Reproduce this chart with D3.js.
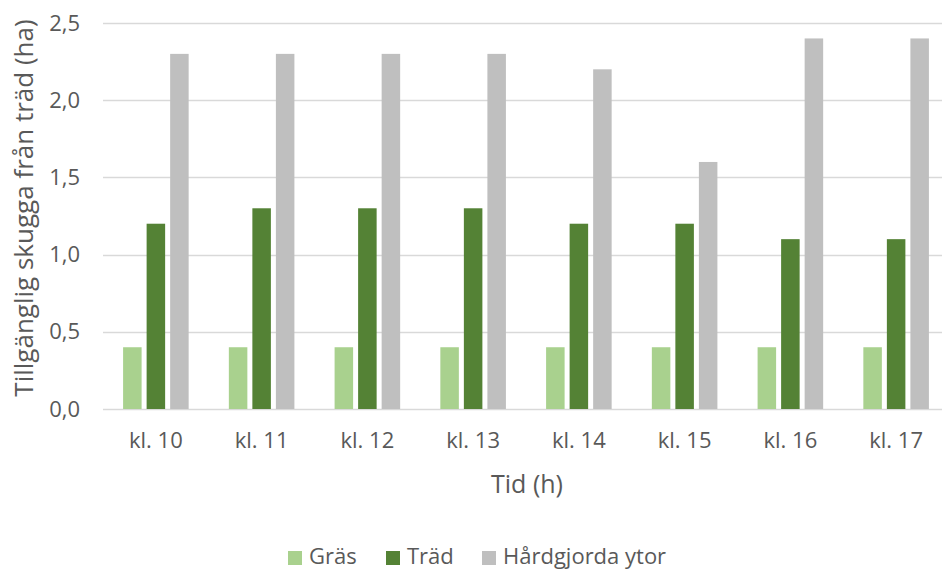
<!DOCTYPE html>
<html>
<head>
<meta charset="utf-8">
<script src="https://cdn.jsdelivr.net/npm/d3@7"></script>
<style>
  body { margin: 0; background: #fff; }
  svg text { font-family: "Open Sans", sans-serif; fill: #595959; }
</style>
</head>
<body>
<div id="chart"></div>
<script>
const categories = ["kl. 10", "kl. 11", "kl. 12", "kl. 13", "kl. 14", "kl. 15", "kl. 16", "kl. 17"];
const seriesNames = ["Gräs", "Träd", "Hårdgjorda ytor"];
const gras = [0.4, 0.4, 0.4, 0.4, 0.4, 0.4, 0.4, 0.4];
const trad = [1.2, 1.3, 1.3, 1.3, 1.2, 1.2, 1.1, 1.1];
const hardgjorda = [2.3, 2.3, 2.3, 2.3, 2.2, 1.6, 2.4, 2.4];
const yTicks = [0, 0.5, 1.0, 1.5, 2.0, 2.5];
const colors = ["#A9D18E", "#548235", "#BFBFBF"];

const w = 942;
const h = 569;
const values = [gras, trad, hardgjorda];

const svg = d3.select("#chart").append("svg").attr("width", w).attr("height", h);

const x0 = d3.scaleBand()
  .domain(categories)
  .range([103, 949])
  .paddingInner(0.38)
  .paddingOuter(0.19);

const x1 = d3.scaleBand()
  .domain(seriesNames)
  .range([0, x0.bandwidth()])
  .paddingInner(0.213)
  .paddingOuter(0);

const y = d3.scaleLinear().domain([0, 2.5]).range([409, 23]);

const fmt = (d) => d.toFixed(1).replace(".", ",");

// gridlines
svg.append("g")
  .selectAll("line")
  .data(yTicks)
  .enter()
  .append("line")
  .attr("x1", 103)
  .attr("x2", w)
  .attr("y1", (d) => Math.round(y(d)) + 0.5)
  .attr("y2", (d) => Math.round(y(d)) + 0.5)
  .attr("stroke", "#D9D9D9")
  .attr("stroke-width", 1.5);

// y axis labels
const yAxis = d3.axisLeft(y).tickValues(yTicks).tickFormat(fmt).tickSize(0).tickPadding(23);
svg.append("g")
  .attr("transform", "translate(103,0)")
  .call(yAxis)
  .call((g) => g.select(".domain").remove())
  .selectAll("text")
  .attr("font-family", "'Open Sans', sans-serif")
  .attr("font-size", 22)
  .attr("fill", "#595959");

// bars
const groups = svg.append("g")
  .selectAll("g")
  .data(categories)
  .enter()
  .append("g")
  .attr("transform", (d) => "translate(" + x0(d) + ",0)");

groups.selectAll("rect")
  .data((d, i) => seriesNames.map((s, j) => ({ s: s, v: values[j][i], c: colors[j] })))
  .enter()
  .append("rect")
  .attr("x", (d) => x1(d.s))
  .attr("width", x1.bandwidth())
  .attr("y", (d) => y(d.v))
  .attr("height", (d) => y(0) - y(d.v))
  .attr("fill", (d) => d.c);

// x axis labels
const xAxis = d3.axisBottom(x0).tickSize(0).tickPadding(23);
svg.append("g")
  .attr("transform", "translate(0,409)")
  .call(xAxis)
  .call((g) => g.select(".domain").remove())
  .selectAll("text")
  .attr("font-family", "'Open Sans', sans-serif")
  .attr("font-size", 22)
  .attr("fill", "#595959");

// axis titles
svg.append("text")
  .attr("x", 527)
  .attr("y", 493)
  .attr("text-anchor", "middle")
  .attr("font-size", 25)
  .text("Tid (h)");

svg.append("text")
  .attr("transform", "translate(33,208) rotate(-90)")
  .attr("text-anchor", "middle")
  .attr("font-size", 26)
  .text("Tillgänglig skugga från träd (ha)");

// legend
const legendX = [288, 386, 482];
const legend = svg.append("g")
  .selectAll("g")
  .data(seriesNames)
  .enter()
  .append("g")
  .attr("transform", (d, i) => "translate(" + legendX[i] + ",551)");

legend.append("rect")
  .attr("width", 14)
  .attr("height", 14)
  .attr("fill", (d, i) => colors[i]);

legend.append("text")
  .attr("x", 21)
  .attr("y", 13)
  .attr("font-size", 22)
  .text((d) => d);
</script>
</body>
</html>
